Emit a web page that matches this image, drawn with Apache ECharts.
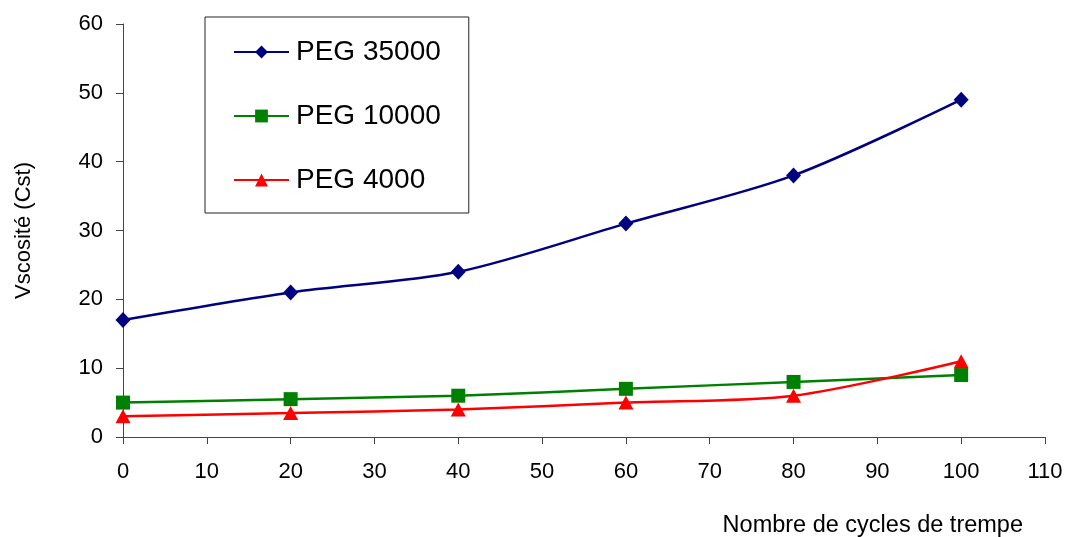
<!DOCTYPE html>
<html>
<head>
<meta charset="utf-8">
<script src="https://cdn.jsdelivr.net/npm/echarts@6/dist/echarts.min.js"></script>
<style>html,body{margin:0;padding:0;background:#fff}#c{width:1068px;height:537px}</style>
</head>
<body>
<div id="c"></div>
<script>
var cycles = [0, 20, 40, 60, 80, 100];
var peg35000 = [17, 21, 24, 31, 38, 49];
var peg10000 = [5, 5.5, 6, 7, 8, 9];
var peg4000 = [3, 3.5, 4, 5, 6, 11];
var seriesNames = ['PEG 35000', 'PEG 10000', 'PEG 4000'];
var xTitle = 'Nombre de cycles de trempe';
var yTitle = 'Vscosité (Cst)';

function pairs(v) { return cycles.map(function (c, i) { return [c, v[i]]; }); }
var font = 'Liberation Sans, Arial, sans-serif';
var chart = echarts.init(document.getElementById('c'), null, {renderer: 'canvas'});
chart.setOption({
  animation: false,
  backgroundColor: '#fff',
  textStyle: {fontFamily: font},
  title: {
    text: xTitle, right: 40, top: 509,
    textStyle: {fontSize: 23.5, fontWeight: 'normal', color: '#000', fontFamily: font}
  },
  grid: {left: 123, right: 23, top: 24, bottom: 100, containLabel: false},
  legend: {
    orient: 'vertical', left: 205, top: 17,
    padding: [21, 28, 19, 28],
    itemGap: 36, itemWidth: 55, itemHeight: 16,
    borderColor: '#222', borderWidth: 1, backgroundColor: '#fff',
    textStyle: {fontSize: 28, color: '#000', fontFamily: font, lineHeight: 24, padding: [0, 0, 0, 2]},
    data: seriesNames
  },
  xAxis: {
    type: 'value', min: 0, max: 110, interval: 10,
    axisLine: {lineStyle: {color: '#444', width: 1}},
    axisTick: {show: true, length: 7, lineStyle: {color: '#444'}},
    axisLabel: {fontSize: 22, color: '#000', margin: 24, fontFamily: font},
    splitLine: {show: false}
  },
  yAxis: {
    type: 'value', min: 0, max: 60, interval: 10,
    name: yTitle, nameLocation: 'middle', nameGap: 88,
    nameTextStyle: {fontSize: 22, color: '#000', fontFamily: font},
    axisLine: {show: true, lineStyle: {color: '#444', width: 1}},
    axisTick: {show: true, length: 7, lineStyle: {color: '#444'}},
    axisLabel: {fontSize: 22, color: '#000', margin: 20, fontFamily: font},
    splitLine: {show: false}
  },
  series: [
    {name: seriesNames[0], type: 'line', data: pairs(peg35000), smooth: 0.3,
     symbol: 'diamond', symbolSize: [15, 16],
     itemStyle: {color: '#000080'}, lineStyle: {color: '#000080', width: 2.5}},
    {name: seriesNames[1], type: 'line', data: pairs(peg10000), smooth: 0.3,
     symbol: 'rect', symbolSize: 14,
     itemStyle: {color: '#008000'}, lineStyle: {color: '#008000', width: 2.5}},
    {name: seriesNames[2], type: 'line', data: pairs(peg4000), smooth: 0.3,
     symbol: 'triangle', symbolSize: [15, 14],
     itemStyle: {color: '#ff0000'}, lineStyle: {color: '#ff0000', width: 2.5}}
  ]
});
</script>
</body>
</html>
